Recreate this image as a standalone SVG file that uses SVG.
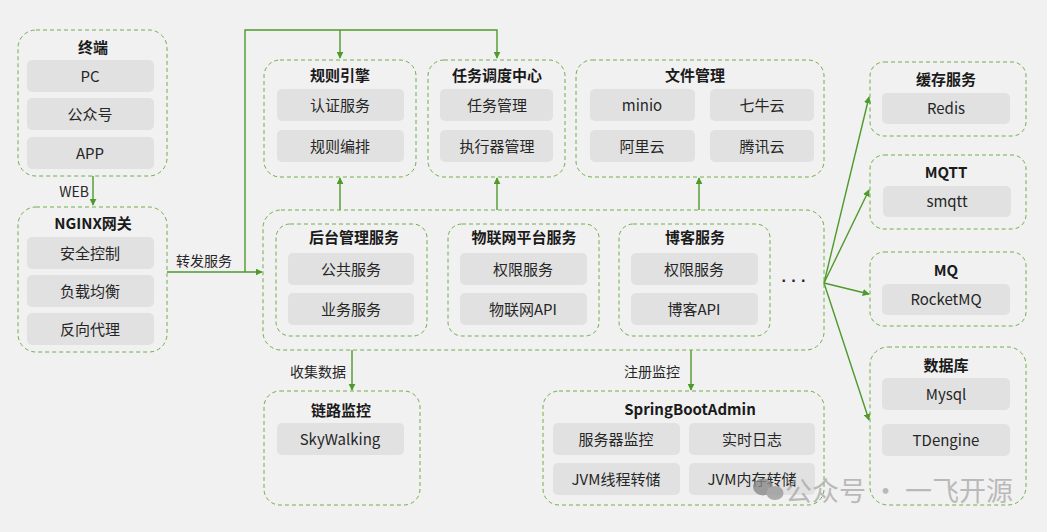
<svg xmlns="http://www.w3.org/2000/svg" width="1047" height="532" viewBox="0 0 1047 532">
<style>
.bg{fill:#f1f1f1}
.grp{fill:none;stroke:#6eb045;stroke-width:1;stroke-dasharray:4 3}
.item{fill:#e1e1e1}
text{font-family:"Noto Sans CJK SC","Noto Sans",sans-serif;fill:#262626;text-anchor:middle;dominant-baseline:central}
.t{font-size:15px;font-weight:bold;fill:#1a1a1a}
.i{font-size:15px}
.l{font-size:14px}
.c{fill:none;stroke:#4e9a2a;stroke-width:1.4}
.wm{font-size:27px;fill:#a0a0a0;fill-opacity:0.85;text-anchor:start}
</style>
<defs>
<marker id="ah" viewBox="0 0 10 10" refX="9" refY="5" markerWidth="7" markerHeight="7" orient="auto" markerUnits="userSpaceOnUse">
<path d="M0,0 L10,5 L0,10 z" fill="#4e9a2a"/>
</marker>
</defs>
<rect class="bg" x="0" y="0" width="1047" height="532"/>

<g id="connectors">
<path class="c" d="M93,176 V205" marker-end="url(#ah)"/>
<text class="l" x="74" y="191">WEB</text>
<path class="c" d="M167,272 H262" marker-end="url(#ah)"/>
<text class="l" x="204" y="260">转发服务</text>
<path class="c" d="M245,272 V30 H497 V58" marker-end="url(#ah)"/>
<path class="c" d="M340,30 V58" marker-end="url(#ah)"/>
<path class="c" d="M340,210 V178" marker-end="url(#ah)"/>
<path class="c" d="M497,210 V178" marker-end="url(#ah)"/>
<path class="c" d="M699,210 V178" marker-end="url(#ah)"/>
<path class="c" d="M824,283 L869,97" marker-end="url(#ah)"/>
<path class="c" d="M824,283 L869,190" marker-end="url(#ah)"/>
<path class="c" d="M824,283 L869,294" marker-end="url(#ah)"/>
<path class="c" d="M824,283 L869,420" marker-end="url(#ah)"/>
<path class="c" d="M352,350 V390" marker-end="url(#ah)"/>
<text class="l" x="318" y="371">收集数据</text>
<path class="c" d="M691,350 V390" marker-end="url(#ah)"/>
<text class="l" x="652" y="371">注册监控</text>
</g>

<g id="terminal">
<rect class="grp" x="18" y="30" width="149" height="146" rx="18"/>
<text class="t" x="93" y="46">终端</text>
<rect class="item" x="27" y="60" width="127" height="32" rx="5"/><text class="i" x="90" y="75">PC</text>
<rect class="item" x="27" y="98" width="127" height="32" rx="5"/><text class="i" x="90" y="113">公众号</text>
<rect class="item" x="27" y="137" width="127" height="32" rx="5"/><text class="i" x="90" y="152">APP</text>
</g>

<g id="nginx">
<rect class="grp" x="18" y="207" width="149" height="145" rx="18"/>
<text class="t" x="93" y="222">NGINX网关</text>
<rect class="item" x="27" y="237" width="127" height="32" rx="5"/><text class="i" x="90" y="252">安全控制</text>
<rect class="item" x="27" y="275" width="127" height="32" rx="5"/><text class="i" x="90" y="290">负载均衡</text>
<rect class="item" x="27" y="313" width="127" height="32" rx="5"/><text class="i" x="90" y="328">反向代理</text>
</g>

<g id="rules">
<rect class="grp" x="264" y="60" width="152" height="117" rx="16"/>
<text class="t" x="340" y="74">规则引擎</text>
<rect class="item" x="277" y="89" width="127" height="32" rx="5"/><text class="i" x="340" y="104">认证服务</text>
<rect class="item" x="277" y="130" width="127" height="32" rx="5"/><text class="i" x="340" y="145">规则编排</text>
</g>

<g id="scheduler">
<rect class="grp" x="428" y="60" width="137" height="117" rx="16"/>
<text class="t" x="497" y="74">任务调度中心</text>
<rect class="item" x="440" y="89" width="113" height="32" rx="5"/><text class="i" x="497" y="104">任务管理</text>
<rect class="item" x="440" y="130" width="113" height="32" rx="5"/><text class="i" x="497" y="145">执行器管理</text>
</g>

<g id="files">
<rect class="grp" x="576" y="60" width="248" height="117" rx="16"/>
<text class="t" x="695" y="74">文件管理</text>
<rect class="item" x="590" y="89" width="105" height="32" rx="5"/><text class="i" x="642" y="104">minio</text>
<rect class="item" x="710" y="89" width="104" height="32" rx="5"/><text class="i" x="762" y="104">七牛云</text>
<rect class="item" x="590" y="130" width="105" height="32" rx="5"/><text class="i" x="642" y="145">阿里云</text>
<rect class="item" x="710" y="130" width="104" height="32" rx="5"/><text class="i" x="762" y="145">腾讯云</text>
</g>

<g id="services">
<rect class="grp" x="263" y="210" width="561" height="140" rx="18"/>
<text x="794" y="280" style="font-family:'Liberation Sans',sans-serif;font-size:16px;font-weight:bold">· · ·</text>
</g>

<g id="admin-service">
<rect class="grp" x="276" y="224" width="151" height="112" rx="14"/>
<text class="t" x="354" y="236">后台管理服务</text>
<rect class="item" x="288" y="253" width="126" height="32" rx="5"/><text class="i" x="351" y="268">公共服务</text>
<rect class="item" x="288" y="293" width="126" height="32" rx="5"/><text class="i" x="351" y="308">业务服务</text>
</g>

<g id="iot-service">
<rect class="grp" x="448" y="224" width="151" height="112" rx="14"/>
<text class="t" x="524" y="236">物联网平台服务</text>
<rect class="item" x="460" y="253" width="127" height="32" rx="5"/><text class="i" x="523" y="268">权限服务</text>
<rect class="item" x="460" y="293" width="127" height="32" rx="5"/><text class="i" x="523" y="308">物联网API</text>
</g>

<g id="blog-service">
<rect class="grp" x="619" y="224" width="151" height="112" rx="14"/>
<text class="t" x="695" y="236">博客服务</text>
<rect class="item" x="631" y="253" width="127" height="32" rx="5"/><text class="i" x="694" y="268">权限服务</text>
<rect class="item" x="631" y="293" width="127" height="32" rx="5"/><text class="i" x="694" y="308">博客API</text>
</g>

<g id="cache">
<rect class="grp" x="870" y="62" width="156" height="74" rx="14"/>
<text class="t" x="946" y="78">缓存服务</text>
<rect class="item" x="882" y="93" width="128" height="31" rx="5"/><text class="i" x="946" y="107">Redis</text>
</g>

<g id="mqtt">
<rect class="grp" x="870" y="155" width="156" height="74" rx="14"/>
<text class="t" x="946" y="171">MQTT</text>
<rect class="item" x="883" y="186" width="128" height="31" rx="5"/><text class="i" x="947" y="200">smqtt</text>
</g>

<g id="mq">
<rect class="grp" x="870" y="252" width="156" height="74" rx="14"/>
<text class="t" x="946" y="269">MQ</text>
<rect class="item" x="882" y="284" width="128" height="31" rx="5"/><text class="i" x="946" y="298">RocketMQ</text>
</g>

<g id="database">
<rect class="grp" x="870" y="347" width="156" height="158" rx="18"/>
<text class="t" x="946" y="364">数据库</text>
<rect class="item" x="882" y="378" width="128" height="32" rx="5"/><text class="i" x="946" y="393">Mysql</text>
<rect class="item" x="882" y="424" width="128" height="32" rx="5"/><text class="i" x="946" y="439">TDengine</text>
</g>

<g id="tracing">
<rect class="grp" x="264" y="391" width="156" height="114" rx="16"/>
<text class="t" x="341" y="409">链路监控</text>
<rect class="item" x="277" y="423" width="127" height="32" rx="5"/><text class="i" x="340" y="438">SkyWalking</text>
</g>

<g id="springbootadmin">
<rect class="grp" x="543" y="391" width="281" height="114" rx="16"/>
<text class="t" x="690" y="408">SpringBootAdmin</text>
<rect class="item" x="553" y="423" width="127" height="32" rx="5"/><text class="i" x="616" y="438">服务器监控</text>
<rect class="item" x="689" y="423" width="126" height="32" rx="5"/><text class="i" x="752" y="438">实时日志</text>
<rect class="item" x="553" y="463" width="127" height="32" rx="5"/><text class="i" x="616" y="478">JVM线程转储</text>
<rect class="item" x="689" y="463" width="126" height="32" rx="5"/><text class="i" x="752" y="478">JVM内存转储</text>
</g>

<g id="watermark" opacity="0.8">
<ellipse cx="763" cy="487" rx="10" ry="8.5" fill="#8a8a8a"/>
<ellipse cx="775" cy="493" rx="8.5" ry="7" fill="#9a9a9a"/>
<text class="wm" x="785" y="489">公众号 · 一飞开源</text>
</g>
</svg>
